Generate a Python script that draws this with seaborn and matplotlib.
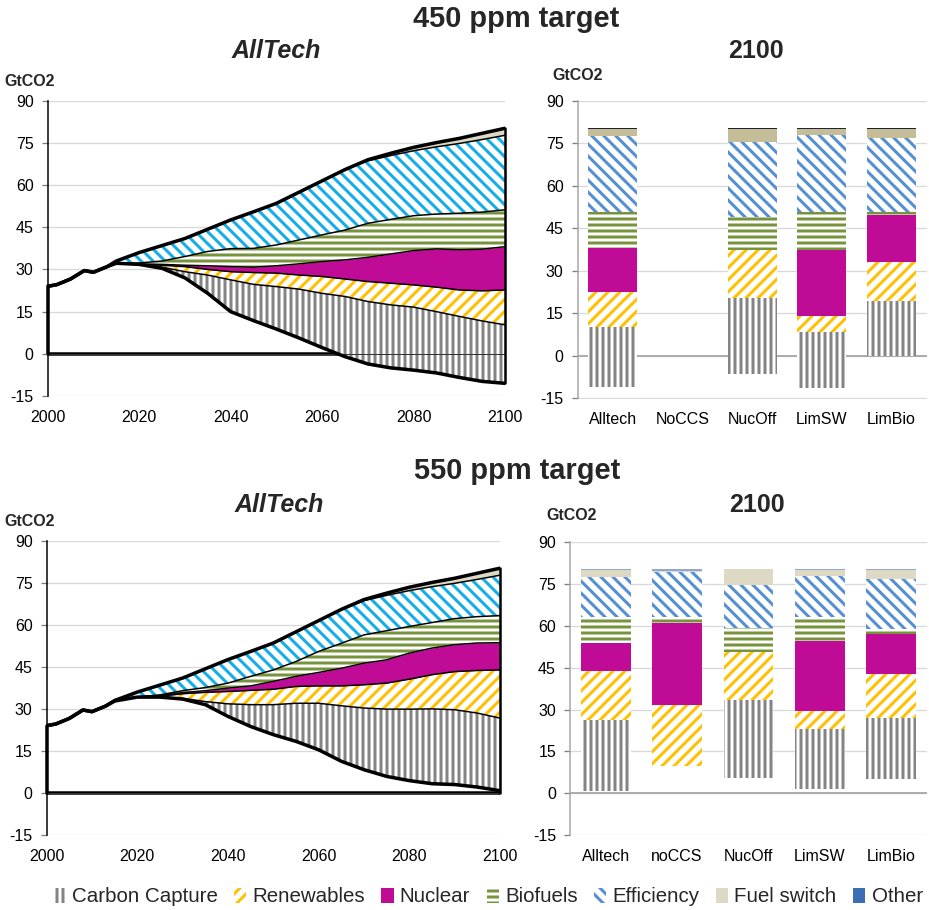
import numpy as np
import matplotlib
matplotlib.use("Agg")
import matplotlib.pyplot as plt
from matplotlib.patches import Patch
import seaborn as sns

# ---------------- data ----------------
years = [2000, 2002, 2005, 2008, 2010, 2013, 2015, 2020, 2025, 2030, 2035, 2040, 2045,
         2050, 2055, 2060, 2065, 2070, 2075, 2080, 2085, 2090, 2095, 2100]

# 450 ppm, AllTech: net emissions and mitigation wedges (GtCO2)
emis_450 = [24.0, 24.6, 26.6, 29.6, 29.0, 31.0, 32.2, 31.8, 30.4, 27.0, 21.5, 15.0, 11.8,
            8.8, 5.6, 2.2, -1.0, -3.6, -5.0, -5.8, -6.8, -8.4, -9.8, -10.5]
cc_450 = [0, 0, 0, 0, 0, 0, 0, 0, 0.4, 2.2, 6.5, 11.3, 12.9, 15.1, 17.4, 19.3, 21.4, 22.2,
          22.4, 22.4, 21.8, 21.7, 21.5, 20.8]
ren_450 = [0, 0, 0, 0, 0, 0, 0, 0, 0.7, 1.8, 2.0, 2.9, 4.2, 4.8, 5.0, 6.0, 6.2, 7.1, 7.7,
           7.9, 8.7, 9.4, 10.7, 12.4]
nuc_450 = [0, 0, 0, 0, 0, 0, 0, 0.2, 0.3, 0.5, 1.3, 1.8, 1.9, 2.6, 4.0, 5.3, 6.8, 8.6, 10.4,
           12.2, 13.6, 14.3, 14.8, 15.4]
bio_450 = [0, 0, 0, 0, 0, 0, 0, 0.3, 1.2, 3.1, 5.1, 6.4, 6.7, 7.4, 8.5, 9.5, 10.6, 12.1,
           12.3, 12.4, 12.4, 13.0, 13.2, 13.1]
eff_450 = [0, 0, 0, 0, 0, 0, 0.8, 3.7, 5.5, 6.4, 7.9, 10.2, 13.0, 14.8, 17.0, 19.2, 21.5,
           22.2, 22.7, 23.1, 23.9, 24.8, 25.8, 26.5]
fuel_450 = [0, 0, 0, 0, 0, 0, 0, 0, 0, 0, 0, 0, 0, 0, 0, 0, 0, 0.4, 0.8, 1.2, 1.5, 1.8,
            2.2, 2.5]

# 550 ppm, AllTech
emis_550 = [24.0, 24.6, 26.6, 29.6, 29.0, 31.0, 32.8, 34.2, 34.2, 33.5, 31.5, 27.3, 23.7,
            20.8, 18.4, 15.4, 11.3, 8.3, 5.9, 4.4, 3.3, 3.0, 2.1, 0.8]
cc_550 = [0, 0, 0, 0, 0, 0, 0, 0, 0, 0.3, 1.1, 4.5, 7.8, 10.7, 13.6, 16.6, 19.8, 22.0,
          24.0, 25.5, 26.7, 26.7, 26.4, 25.9]
ren_550 = [0, 0, 0, 0, 0, 0, 0, 0, 0.3, 1.6, 3.3, 4.4, 5.1, 5.5, 6.0, 6.2, 7.1, 8.3, 9.3,
           10.7, 12.2, 13.6, 15.2, 17.2]
nuc_550 = [0, 0, 0, 0, 0, 0, 0, 0, 0.2, 0.4, 0.6, 1.2, 1.6, 2.8, 3.6, 4.8, 6.3, 7.7, 8.3,
           9.3, 9.5, 9.6, 9.8, 9.7]
bio_550 = [0, 0, 0, 0, 0, 0, 0, 0.1, 0.3, 0.7, 1.1, 1.8, 3.4, 4.1, 5.3, 7.5, 8.9, 10.1,
           10.4, 9.5, 9.1, 9.3, 9.4, 9.7]
eff_550 = [0, 0, 0, 0, 0, 0, 0.2, 1.7, 3.5, 4.5, 6.7, 8.4, 8.9, 9.6, 10.6, 11.0, 12.1,
           12.2, 12.6, 12.8, 12.8, 12.6, 13.3, 14.4]
fuel_550 = [0, 0, 0, 0, 0, 0, 0, 0, 0, 0, 0, 0, 0, 0, 0, 0, 0, 0.4, 0.8, 1.2, 1.5, 1.8,
            2.2, 2.5]

# 2100 bars
cats_450 = ["Alltech", "NoCCS", "NucOff", "LimSW", "LimBio"]
b450_emis = [-10.8, np.nan, -6.3, -11.4, 0.0]
b450_cc = [20.9, np.nan, 26.6, 20.0, 19.5]
b450_ren = [12.6, np.nan, 17.1, 5.5, 13.8]
b450_nuc = [15.2, np.nan, 0.0, 23.3, 16.4]
b450_bio = [13.0, np.nan, 11.7, 13.5, 1.2]
b450_eff = [26.6, np.nan, 26.3, 27.0, 26.1]
b450_fuel = [2.5, np.nan, 4.6, 2.1, 3.0]
b450_oth = [0.4, np.nan, 0.4, 0.4, 0.4]

cats_550 = ["Alltech", "noCCS", "NucOff", "LimSW", "LimBio"]
b550_emis = [0.8, 9.6, 5.4, 1.4, 5.1]
b550_cc = [25.5, 0.0, 27.9, 21.5, 21.7]
b550_ren = [17.7, 22.2, 17.5, 6.5, 16.0]
b550_nuc = [9.8, 29.4, 0.0, 25.1, 14.3]
b550_bio = [9.3, 1.9, 8.4, 8.6, 1.7]
b550_eff = [14.3, 16.4, 15.5, 14.8, 17.9]
b550_fuel = [2.7, 0.2, 5.6, 2.2, 3.4]
b550_oth = [0.3, 0.7, 0.2, 0.3, 0.3]

legend_labels = ["Carbon Capture", "Renewables", "Nuclear", "Biofuels", "Efficiency",
                 "Fuel switch", "Other"]
yticks = [-15, 0, 15, 30, 45, 60, 75, 90]
xticks = [2000, 2020, 2040, 2060, 2080, 2100]

# ---------------- style ----------------
sns.set_theme(style="white")
plt.rcParams["font.family"] = ["Liberation Sans", "DejaVu Sans"]
plt.rcParams["hatch.linewidth"] = 3.0
plt.rcParams["axes.unicode_minus"] = False

GRAY = "#848484"
YEL = "#FFC000"
MAG = "#BF0B95"
GRN = "#77933C"
CYAN = "#12AEEA"
BLUE = "#558ED5"
BEIGE = "#DDD9C4"
TAN = "#C4BD97"
OTH = "#3C6EB4"

W, H = 929, 910
fig = plt.figure(figsize=(W / 72, H / 72), dpi=72)


def add_ax(l, r, t, b):
    return fig.add_axes([l / W, 1 - b / H, (r - l) / W, (b - t) / H])


def ftext(x, y, s, **kw):
    fig.text(x / W, 1 - y / H, s, ha="center", va="center", **kw)


def style_axis(ax, spine_color, xpad):
    for s in ["top", "right", "bottom"]:
        ax.spines[s].set_visible(False)
    ax.spines["left"].set_color(spine_color)
    ax.spines["left"].set_linewidth(1.5)
    ax.set_ylim(-15, 90)
    ax.set_yticks(yticks)
    ax.yaxis.grid(True, color="#D9D9D9", lw=1.3, zorder=0)
    ax.xaxis.grid(False)
    ax.set_axisbelow(True)
    ax.tick_params(axis="y", which="both", left=True, length=6, width=1.3,
                   color="#7F7F7F", labelsize=16, pad=8, labelcolor="black")
    ax.tick_params(axis="x", length=0, labelsize=16, pad=xpad, labelcolor="black")
    ax.set_xlabel("")
    ax.set_ylabel("")


def area_panel(ax, emis, wedges, colors, hatches):
    x = np.array(years, float)
    lo = np.array(emis, float)
    ax.plot([2000, 2100], [0, 0], color="black", lw=3.5, zorder=1.5,
            solid_capstyle="butt")
    bounds = [lo]
    for w, col, h in zip(wedges, colors, hatches):
        hi = bounds[-1] + np.array(w, float)
        if h:
            ax.fill_between(x, bounds[-1], hi, facecolor="white", edgecolor=col,
                            hatch=h, linewidth=0, zorder=2)
        else:
            ax.fill_between(x, bounds[-1], hi, facecolor=col, linewidth=0, zorder=2)
        bounds.append(hi)
    for hi in bounds[1:-1]:
        ax.plot(x, hi, color="black", lw=1.5, zorder=3)
    ax.plot([2000, 2100], [0, 0], color="#333333", lw=1.0, zorder=3.2)
    sns.lineplot(x=x, y=lo, ax=ax, color="black", lw=3.5, zorder=4)
    sns.lineplot(x=x, y=bounds[-1], ax=ax, color="black", lw=3.5, zorder=4)
    ax.plot([2000, 2000], [0, lo[0]], color="black", lw=3.5, zorder=4, clip_on=False)
    ax.plot([2100, 2100], [min(0, lo[-1]), bounds[-1][-1]], color="black", lw=2.5,
            zorder=4, clip_on=False)
    ax.set_xlim(2000, 2100)
    ax.set_xticks(xticks)


def bar_panel(ax, cats, emis, wedges, colors, hatches):
    x = np.arange(len(cats))
    bottom = np.array(emis, float)
    for w, col, h in zip(wedges, colors, hatches):
        w = np.array(w, float)
        m = np.isfinite(w) & (w > 0)
        if h:
            ax.bar(x[m], w[m], bottom=bottom[m], width=0.7, facecolor="white",
                   edgecolor=col, hatch=h, linewidth=0, zorder=2)
        else:
            ax.bar(x[m], w[m], bottom=bottom[m], width=0.7, color=col, linewidth=0,
                   zorder=2)
        bottom = bottom + w
    ax.axhline(0, color="#A6A6A6", lw=1.8, zorder=1)
    ax.set_xlim(-0.5, len(cats) - 0.5)
    ax.set_xticks(x, cats)


area_hatch = ["||", "//", None, "--", "\\\\", None, None]

# ---- 450 ppm ----
ax1 = add_ax(47.7, 505, 100.7, 396)
area_panel(ax1, emis_450, [cc_450, ren_450, nuc_450, bio_450, eff_450, fuel_450],
           [GRAY, YEL, MAG, GRN, CYAN, BEIGE], area_hatch)
style_axis(ax1, "black", 14)

ax2 = add_ax(577.7, 926.5, 100.7, 398.5)
bar_panel(ax2, cats_450, b450_emis,
          [b450_cc, b450_ren, b450_nuc, b450_bio, b450_eff, b450_fuel, b450_oth],
          [GRAY, YEL, MAG, GRN, BLUE, TAN, "#1E2636"], area_hatch)
style_axis(ax2, "#A6A6A6", 14)

# ---- 550 ppm ----
ax3 = add_ax(46.7, 500, 540.7, 835)
area_panel(ax3, emis_550, [cc_550, ren_550, nuc_550, bio_550, eff_550, fuel_550],
           [GRAY, YEL, MAG, GRN, CYAN, BEIGE], area_hatch)
style_axis(ax3, "black", 14)

ax4 = add_ax(570, 927, 542.3, 835)
bar_panel(ax4, cats_550, b550_emis,
          [b550_cc, b550_ren, b550_nuc, b550_bio, b550_eff, b550_fuel, b550_oth],
          [GRAY, YEL, MAG, GRN, BLUE, BEIGE, "#8CA8D6"], area_hatch)
style_axis(ax4, "#A6A6A6", 14)

# ---- texts ----
ftext(516, 19, "450 ppm target", fontsize=29, fontweight="bold")
ftext(276, 51, "AllTech", fontsize=25, fontweight="bold", fontstyle="italic")
ftext(756, 51, "2100", fontsize=25, fontweight="bold")
ftext(517, 471, "550 ppm target", fontsize=29, fontweight="bold")
ftext(279, 505, "AllTech", fontsize=25, fontweight="bold", fontstyle="italic")
ftext(757, 505, "2100", fontsize=25, fontweight="bold")
for (gx, gy) in [(30, 81), (578, 76), (30, 521), (572, 516)]:
    ftext(gx, gy, "GtCO2", fontsize=16, fontweight="bold")

# ---- legend ----
handles = [
    Patch(facecolor="white", edgecolor=GRAY, hatch="||", linewidth=0),
    Patch(facecolor="white", edgecolor=YEL, hatch="//", linewidth=0),
    Patch(facecolor=MAG, linewidth=0),
    Patch(facecolor="white", edgecolor=GRN, hatch="--", linewidth=0),
    Patch(facecolor="white", edgecolor=BLUE, hatch="\\\\", linewidth=0),
    Patch(facecolor=BEIGE, linewidth=0),
    Patch(facecolor=OTH, linewidth=0),
]
fig.legend(handles, legend_labels, loc="center", bbox_to_anchor=(488 / W, 1 - 897 / H),
           ncol=7, frameon=False, fontsize=20.5, handlelength=0.6, handleheight=0.8,
           handletextpad=0.3, columnspacing=0.8, borderaxespad=0)

fig.savefig("out.png", dpi=72)
